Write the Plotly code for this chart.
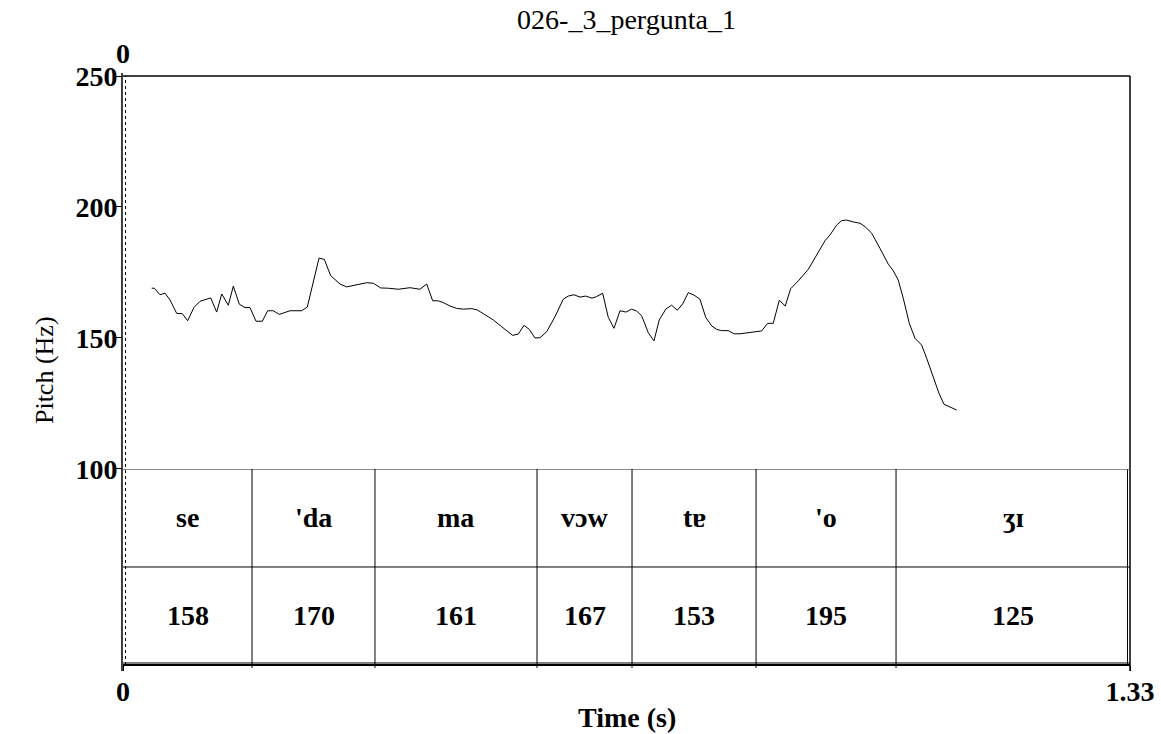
import plotly.graph_objects as go

# ---- data ----
title_text = "026-_3_pergunta_1"
time_s = [0.0379, 0.0413, 0.0489, 0.0555, 0.0621, 0.0709, 0.0783, 0.0854, 0.0938, 0.1017,
          0.1158, 0.1237, 0.1304, 0.1391, 0.1457, 0.1536, 0.1611, 0.1677, 0.1757, 0.1840,
          0.1911, 0.1985, 0.2064, 0.2206, 0.2360, 0.2434, 0.2589, 0.2659, 0.2743, 0.2866,
          0.2954, 0.3042, 0.3130, 0.3219, 0.3306, 0.3403, 0.3504, 0.3636, 0.3790, 0.3922,
          0.4011, 0.4090, 0.4164, 0.4230, 0.4319, 0.4407, 0.4494, 0.4574, 0.4605, 0.4679,
          0.4758, 0.4891, 0.5001, 0.5147, 0.5221, 0.5296, 0.5366, 0.5441, 0.5507, 0.5596,
          0.5705, 0.5815, 0.5881, 0.5956, 0.6036, 0.6111, 0.6194, 0.6256, 0.6335, 0.6409,
          0.6485, 0.6564, 0.6643, 0.6718, 0.6784, 0.6850, 0.6938, 0.7013, 0.7083, 0.7171,
          0.7247, 0.7321, 0.7392, 0.7466, 0.7541, 0.7620, 0.7696, 0.7775, 0.7841, 0.7907,
          0.7994, 0.8073, 0.8149, 0.8281, 0.8435, 0.8514, 0.8588, 0.8668, 0.8747, 0.8818,
          0.8919, 0.9051, 0.9205, 0.9271, 0.9337, 0.9426, 0.9492, 0.9558, 0.9645, 0.9734,
          0.9800, 0.9888, 0.9998, 1.0107, 1.0173, 1.0239, 1.0305, 1.0385, 1.0460, 1.0548,
          1.0614, 1.0688, 1.0777, 1.0843, 1.0922, 1.1011]
pitch_hz = [169.0, 169.0, 166.5, 167.1, 164.5, 159.4, 159.3, 156.6, 161.7, 164.0,
            165.3, 159.9, 166.8, 162.5, 169.8, 162.9, 161.6, 161.6, 156.4, 156.4,
            160.4, 160.4, 159.0, 160.4, 160.4, 161.8, 180.5, 180.0, 173.8, 170.6,
            169.5, 170.0, 170.7, 171.1, 170.9, 169.1, 169.0, 168.6, 169.2, 168.6,
            170.6, 164.2, 164.2, 163.5, 162.2, 161.3, 161.0, 161.0, 161.2, 160.7,
            159.2, 156.9, 154.3, 151.0, 151.5, 154.8, 153.3, 150.0, 150.1, 152.4,
            158.1, 164.8, 166.0, 166.5, 165.6, 166.0, 165.2, 165.8, 167.1, 157.9,
            153.7, 160.4, 159.9, 161.0, 160.3, 158.5, 152.0, 148.9, 156.9, 161.1,
            162.5, 160.6, 163.0, 167.3, 166.4, 164.8, 157.9, 154.6, 153.3, 152.8,
            152.8, 151.6, 151.6, 152.2, 152.7, 155.6, 155.6, 164.4, 162.2, 168.8,
            171.8, 176.2, 184.2, 187.1, 189.3, 193.1, 194.8, 195.0, 194.3, 193.8,
            192.5, 190.0, 184.2, 178.2, 175.7, 172.1, 165.2, 155.6, 149.9, 147.3,
            142.3, 136.5, 128.9, 124.7, 123.8, 122.5]

segment_bounds = [0.0, 0.1704, 0.3328, 0.5468, 0.6723, 0.8361, 1.0210, 1.33]
syllables = ["se", "'da", "ma", "vɔw", "tɐ", "'o", "ʒɪ"]
mean_pitch = [158, 170, 161, 167, 153, 195, 125]

y_ticks = [100, 150, 200, 250]
x_ticks = [0, 1.33]
x_ticktext = ["0", "1.33"]

# ---- figure ----
FONT = "Liberation Serif"
FS = 28
table_top = 0.3328  # paper fraction where pitch panel starts

fig = go.Figure()
fig.add_trace(go.Scatter(x=time_s, y=pitch_hz, mode="lines",
                         line=dict(color="black", width=1), xaxis="x", yaxis="y",
                         showlegend=False, hoverinfo="skip"))

shapes = []
shapes.append(dict(type="line", xref="paper", yref="paper", x0=0, x1=1, y0=1, y1=1,
                   line=dict(color="black", width=1.5)))
shapes.append(dict(type="line", xref="paper", yref="paper", x0=1, x1=1, y0=-0.01, y1=1,
                   line=dict(color="black", width=1.5)))
shapes.append(dict(type="line", xref="paper", yref="paper", x0=0.9975, x1=0.9975, y0=0, y1=table_top,
                   line=dict(color="black", width=1)))
shapes.append(dict(type="line", xref="paper", yref="paper", x0=-0.001, x1=-0.001, y0=-0.01, y1=1.005,
                   line=dict(color="black", width=1.5)))
shapes.append(dict(type="line", xref="paper", yref="paper", x0=0.0025, x1=0.0025, y0=0, y1=1,
                   line=dict(color="black", width=1, dash="dot")))
shapes.append(dict(type="line", xref="paper", yref="paper", x0=0, x1=1, y0=0.0034, y1=0.0034,
                   line=dict(color="black", width=1)))
shapes.append(dict(type="line", xref="paper", yref="y2", x0=0, x1=1, y0=2, y1=2,
                   line=dict(color="#666666", width=1.5)))
shapes.append(dict(type="line", xref="paper", yref="y2", x0=0, x1=1, y0=1, y1=1,
                   line=dict(color="black", width=1)))
for b in segment_bounds[1:-1]:
    shapes.append(dict(type="line", xref="x", yref="paper", x0=b, x1=b, y0=-0.005, y1=table_top,
                       line=dict(color="black", width=1)))

annotations = []
for i, (syl, mp) in enumerate(zip(syllables, mean_pitch)):
    xc = (segment_bounds[i] + segment_bounds[i + 1]) / 2
    annotations.append(dict(x=xc, y=1.5, xref="x", yref="y2", text=f"<b>{syl}</b>",
                            showarrow=False, font=dict(family=FONT, size=FS, color="black")))
    annotations.append(dict(x=xc, y=0.5, xref="x", yref="y2", text=f"<b>{mp}</b>",
                            showarrow=False, font=dict(family=FONT, size=FS, color="black")))
annotations.append(dict(x=0, y=1, xref="x", yref="paper", yanchor="bottom", yshift=5,
                        text="<b>0</b>", showarrow=False,
                        font=dict(family=FONT, size=FS, color="black")))
annotations.append(dict(x=-0.0943, y=0.5, xref="paper", yref="paper", textangle=-90,
                        text="Pitch (Hz)", showarrow=False,
                        font=dict(family=FONT, size=26, color="black")))
annotations.append(dict(x=0.5, y=-(717 - 665) / 589, xref="paper", yref="paper", yanchor="middle",
                        text="<b>Time (s)</b>", showarrow=False,
                        font=dict(family=FONT, size=FS, color="black")))

fig.update_layout(
    width=1161, height=734,
    margin=dict(l=123, r=31, t=76, b=69),
    paper_bgcolor="white", plot_bgcolor="white",
    font=dict(family=FONT, color="black"),
    title=dict(text=title_text, x=0.5, xref="paper", y=1 - 19 / 734, yref="container",
               yanchor="middle", font=dict(family=FONT, size=FS, color="black")),
    xaxis=dict(range=[0, 1.33], anchor="free", position=0, tickvals=x_ticks,
               ticktext=x_ticktext, ticks="outside", ticklen=5, tickcolor="black",
               showline=True, linecolor="black", linewidth=1.5, showgrid=False,
               zeroline=False, automargin=False, ticklabelstandoff=-3,
               tickfont=dict(family=FONT, size=FS, color="black", weight="bold")),
    yaxis=dict(range=[100, 250], domain=[table_top, 1], tickvals=y_ticks,
               ticks="outside", ticklen=6, tickcolor="black", showline=False,
               showgrid=False, zeroline=False, automargin=False, ticklabelstandoff=-7,
               tickfont=dict(family=FONT, size=FS, color="black", weight="bold")),
    yaxis2=dict(range=[0, 2], domain=[0, table_top], visible=False, anchor="x"),
    shapes=shapes, annotations=annotations,
)

# Remove the page's default 8px body margin so the figure fills the window exactly.
fig.write_html("out.html",
               config={"displayModeBar": False},
               post_script="document.body.style.margin='0px';document.body.style.overflow='hidden';")
